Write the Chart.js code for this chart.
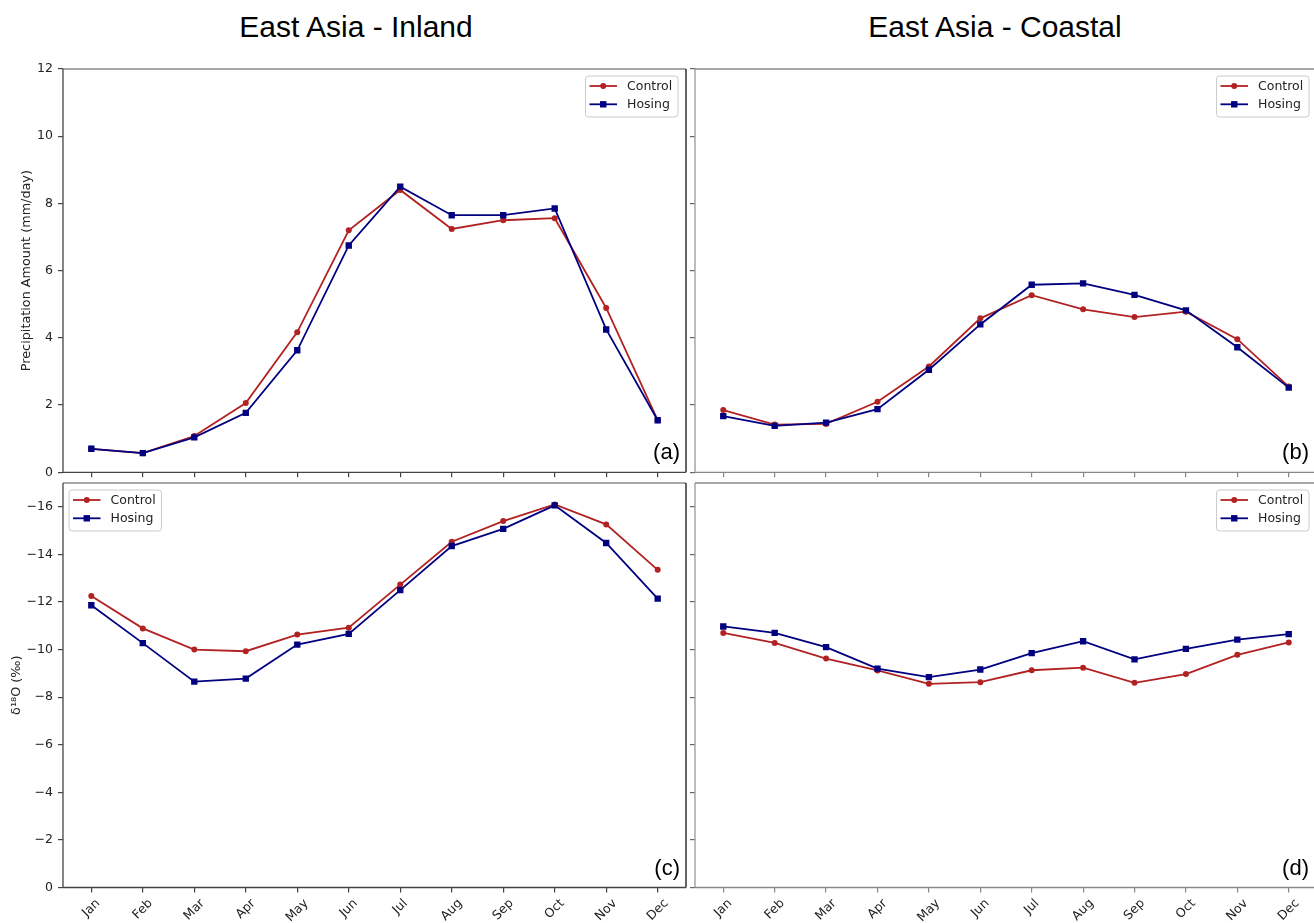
<!DOCTYPE html>
<html><head><meta charset="utf-8">
<script src="https://cdn.jsdelivr.net/npm/chart.js@4.4.1/dist/chart.umd.min.js"></script>
<style>
html,body{margin:0;padding:0;background:#fff;overflow:hidden;width:1314px;height:923px;position:relative;}
canvas{position:absolute;left:0;top:0;}
.title{position:absolute;font-family:"Liberation Sans",Arial,sans-serif;font-size:30px;line-height:30px;color:#000;white-space:nowrap;transform:translateX(-50%);}
</style></head><body>
<div class="title" style="left:356px;top:12px">East Asia - Inland</div>
<div class="title" style="left:995px;top:12px">East Asia - Coastal</div>
<canvas id="c1" width="1330" height="923"></canvas>
<canvas id="c2" width="1330" height="923"></canvas>
<canvas id="c3" width="1330" height="923"></canvas>
<canvas id="c4" width="1330" height="923"></canvas>
<script>
// ---- data ----
const months = ['Jan','Feb','Mar','Apr','May','Jun','Jul','Aug','Sep','Oct','Nov','Dec'];
const precipTicks = [0, 2, 4, 6, 8, 10, 12];
const isoTicks = [0, -2, -4, -6, -8, -10, -12, -14, -16];
const seriesNames = ['Control', 'Hosing'];

const inlandPrecipControl = [0.70, 0.57, 1.08, 2.06, 4.17, 7.20, 8.40, 7.24, 7.50, 7.56, 4.89, 1.55];
const inlandPrecipHosing  = [0.70, 0.57, 1.04, 1.77, 3.63, 6.75, 8.50, 7.65, 7.65, 7.85, 4.25, 1.55];
const coastalPrecipControl = [1.85, 1.42, 1.44, 2.10, 3.15, 4.58, 5.27, 4.85, 4.62, 4.78, 3.96, 2.55];
const coastalPrecipHosing  = [1.67, 1.38, 1.48, 1.88, 3.05, 4.40, 5.58, 5.62, 5.28, 4.82, 3.72, 2.52];
const inlandIsoControl = [-12.25, -10.89, -10.00, -9.93, -10.63, -10.92, -12.73, -14.53, -15.40, -16.10, -15.26, -13.35];
const inlandIsoHosing  = [-11.86, -10.27, -8.65, -8.78, -10.21, -10.66, -12.50, -14.35, -15.07, -16.06, -14.48, -12.14];
const coastalIsoControl = [-10.70, -10.28, -9.62, -9.12, -8.56, -8.63, -9.13, -9.24, -8.60, -8.97, -9.78, -10.30];
const coastalIsoHosing  = [-10.97, -10.70, -10.10, -9.20, -8.84, -9.16, -9.85, -10.35, -9.59, -10.03, -10.42, -10.65];

// ---- styling ----
const RED = '#b22222';
const BLUE = '#000080';
const W = 1330, H = 923;
const TICK_FONT = {family: '"DejaVu Sans", sans-serif', size: 12.5};
const TEXT = '#222';

const panels = [
  {id:'c1', area:{l:63, r:686, t:69, b:472.3}, control:inlandPrecipControl, hosing:inlandPrecipHosing,
   yMin:0, yMax:12, reverse:false, yTicks:precipTicks, showY:true, showX:false,
   yTitle:'Precipitation Amount (mm/day)', titlePad:19, legend:'right', tag:'(a)', tagInset:6,
   spines:{l:'#444', b:'#444', t:'#888', r:'#111'}},
  {id:'c2', area:{l:695, r:1317, t:69, b:472.3}, control:coastalPrecipControl, hosing:coastalPrecipHosing,
   yMin:0, yMax:12, reverse:false, yTicks:precipTicks, showY:false, showX:false,
   yTitle:null, legend:'right', tag:'(b)', tagInset:8,
   spines:{l:'#999', b:'#888', t:'#888', r:'#888'}},
  {id:'c3', area:{l:63, r:686, t:483, b:887.5}, control:inlandIsoControl, hosing:inlandIsoHosing,
   yMin:-17, yMax:0, reverse:true, yTicks:isoTicks, showY:true, showX:true,
   yTitle:'δ¹⁸O (‰)', titlePad:9, legend:'left', tag:'(c)', tagInset:6,
   spines:{l:'#444', b:'#444', t:'#888', r:'#111'}},
  {id:'c4', area:{l:695, r:1317, t:483, b:887.5}, control:coastalIsoControl, hosing:coastalIsoHosing,
   yMin:-17, yMax:0, reverse:true, yTicks:isoTicks, showY:false, showX:true,
   yTitle:null, legend:'right', tag:'(d)', tagInset:8,
   spines:{l:'#999', b:'#888', t:'#888', r:'#888'}}
];

function fmt(v){ return v < 0 ? '\u2212' + Math.abs(v) : String(v); }

function decorPlugin(p){
  return {
    id:'decor'+p.id,
    beforeDraw(chart){
      if(!p.showX) return;
      const s = chart.scales.x;
      const items = s.getLabelItems(chart.chartArea);
      const ctx = chart.ctx;
      ctx.save();
      ctx.font = '12.5px "DejaVu Sans", sans-serif';
      items.forEach((it, i) => {
        const w = ctx.measureText(it.label).width;
        const h = 14;
        const hb = (w + h) * Math.SQRT1_2;
        const x = s.getPixelForValue(s.ticks[i].value);
        it.options.translation = [x, p.area.b + 9 + hb / 2];
        it.options.textAlign = 'center';
        it.options.textBaseline = 'middle';
        it.options.rotation = -Math.PI / 4;
        it.textOffset = 0;
      });
      ctx.restore();
    },
    afterDraw(chart){
      const ctx = chart.ctx;
      const a = chart.chartArea;
      ctx.save();
      // spines
      ctx.lineWidth = 1.3;
      const line = (x1,y1,x2,y2,c)=>{ctx.strokeStyle=c;ctx.beginPath();ctx.moveTo(x1,y1);ctx.lineTo(x2,y2);ctx.stroke();};
      line(a.left, a.top, a.right, a.top, p.spines.t);
      line(a.right, a.top, a.right, a.bottom, p.spines.r);
      line(a.left, a.top, a.left, a.bottom, p.spines.l);
      line(a.left, a.bottom, a.right, a.bottom, p.spines.b);
      // legend
      const bw = 92.5, bh = 41;
      const bx = p.legend === 'right' ? a.right - 8 - bw : a.left + 6;
      const by = a.top + 7;
      ctx.beginPath();
      if (ctx.roundRect) ctx.roundRect(bx, by, bw, bh, 3); else ctx.rect(bx, by, bw, bh);
      ctx.fillStyle = 'rgba(255,255,255,0.8)';
      ctx.fill();
      ctx.strokeStyle = '#cccccc';
      ctx.lineWidth = 1;
      ctx.stroke();
      const rows = [{name:seriesNames[0], color:RED, shape:'circle'}, {name:seriesNames[1], color:BLUE, shape:'rect'}];
      rows.forEach((r, i) => {
        const y = by + 10 + i * 18.3;
        const x1 = bx + 4, x2 = bx + 31.5, xm = (x1 + x2) / 2;
        ctx.strokeStyle = r.color; ctx.lineWidth = 1.8;
        ctx.beginPath(); ctx.moveTo(x1, y); ctx.lineTo(x2, y); ctx.stroke();
        ctx.fillStyle = r.color;
        ctx.beginPath();
        if (r.shape === 'circle') ctx.arc(xm, y, 3, 0, Math.PI * 2); else ctx.rect(xm - 3.2, y - 3.2, 6.4, 6.4);
        ctx.fill();
        ctx.fillStyle = TEXT;
        ctx.font = '12.5px "DejaVu Sans", sans-serif';
        ctx.textAlign = 'left'; ctx.textBaseline = 'middle';
        ctx.fillText(r.name, bx + 41.5, y + 0.5);
      });
      // panel tag
      ctx.fillStyle = '#000';
      ctx.font = '22px "Liberation Sans", Arial, sans-serif';
      ctx.textAlign = 'right'; ctx.textBaseline = 'alphabetic';
      ctx.fillText(p.tag, a.right - p.tagInset, a.bottom - 13);
      ctx.restore();
    }
  };
}

function makeChart(p){
  const xH = p.showX ? H - p.area.b : 10;
  const yW = p.area.l;
  const cfg = {
    type: 'line',
    data: {
      datasets: [
        {label: seriesNames[0], data: p.control.map((v, i) => ({x: i, y: v})), borderColor: RED, backgroundColor: RED,
         pointBackgroundColor: RED, pointBorderWidth: 0, pointStyle: 'circle', pointRadius: 3, borderWidth: 1.8, tension: 0, order: 2},
        {label: seriesNames[1], data: p.hosing.map((v, i) => ({x: i, y: v})), borderColor: BLUE, backgroundColor: BLUE,
         pointBackgroundColor: BLUE, pointBorderWidth: 0, pointStyle: 'rect', pointRadius: 4.5, borderWidth: 1.8, tension: 0, order: 1}
      ]
    },
    options: {
      responsive: false, animation: false, devicePixelRatio: 1,
      layout: {padding: {left: 0, top: p.area.t, right: W - p.area.r, bottom: H - p.area.b - xH}},
      plugins: {legend: {display: false}, tooltip: {enabled: false}},
      elements: {point: {hoverRadius: 3}},
      scales: {
        x: {
          type: 'linear', min: -0.55, max: 11.55,
          afterFit: s => { s.height = xH; },
          afterBuildTicks: s => { s.ticks = months.map((m, i) => ({value: i})); },
          ticks: {autoSkip: false, maxRotation: 45, minRotation: 45, padding: 4, color: TEXT, font: TICK_FONT,
                  callback: v => p.showX ? months[v] : ''},
          grid: {drawOnChartArea: false, drawTicks: true, tickLength: 5, color: p.spines.b, lineWidth: 1.2},
          border: {display: false}
        },
        y: {
          min: p.yMin, max: p.yMax, reverse: p.reverse,
          afterFit: s => { s.width = yW; },
          afterBuildTicks: s => { s.ticks = p.yTicks.map(v => ({value: v})); },
          ticks: {autoSkip: false, padding: 5, color: TEXT, font: TICK_FONT,
                  callback: v => p.showY ? fmt(v) : ''},
          grid: {drawOnChartArea: false, drawTicks: true, tickLength: 5, color: p.spines.l === '#999' ? '#666' : p.spines.l, lineWidth: 1.2},
          border: {display: false},
          title: p.yTitle ? {display: true, text: p.yTitle, color: TEXT, font: {family: '"DejaVu Sans", sans-serif', size: 12.8},
                  padding: {top: p.titlePad, bottom: 0}} : {display: false}
        }
      }
    },
    plugins: [decorPlugin(p)]
  };
  return new Chart(document.getElementById(p.id), cfg);
}

panels.forEach(makeChart);
</script>
</body></html>
